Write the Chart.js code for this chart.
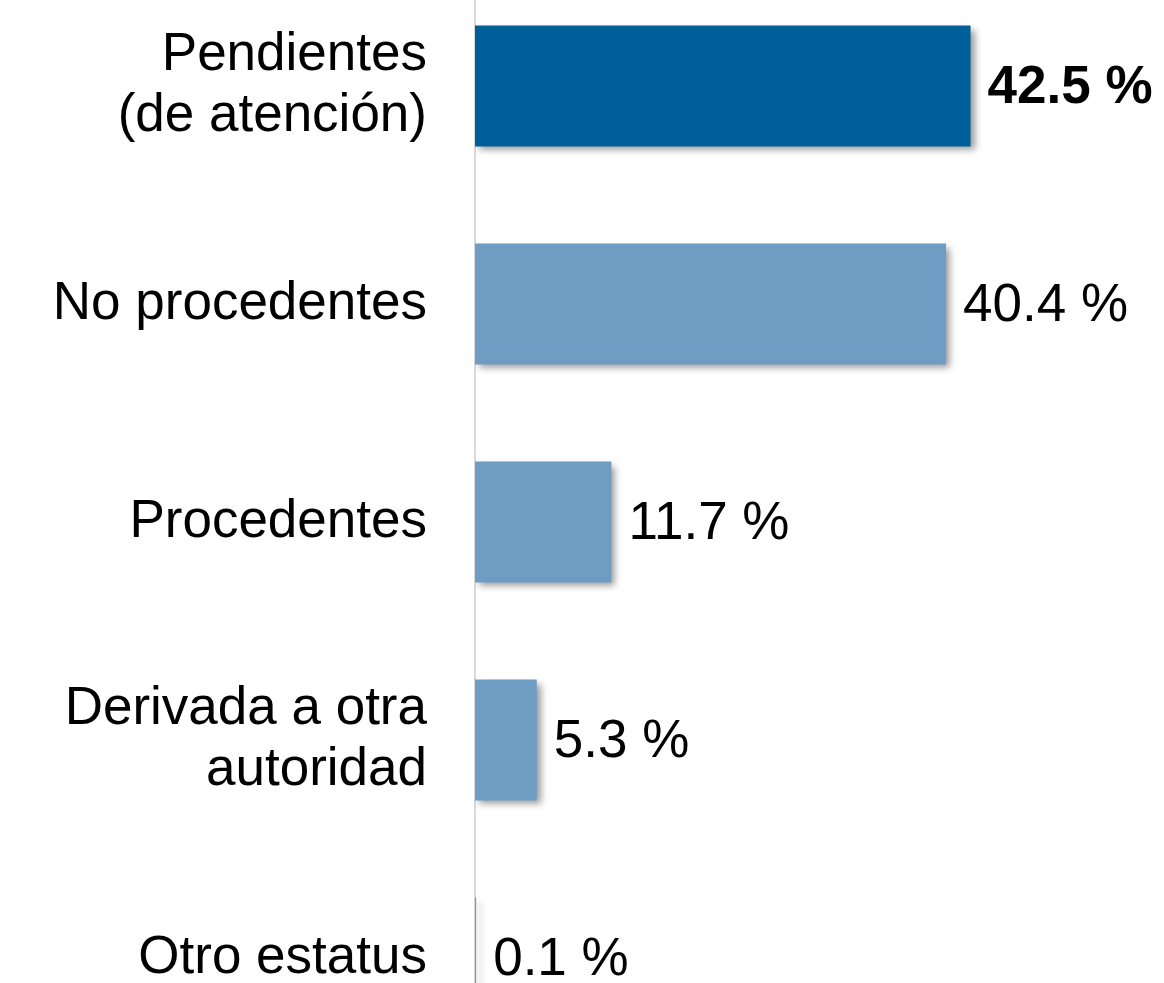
<!DOCTYPE html>
<html lang="es">
<head>
<meta charset="utf-8">
<script src="https://cdn.jsdelivr.net/npm/chart.js@4/dist/chart.umd.min.js"></script>
<style>
  html, body { margin: 0; padding: 0; background: #ffffff; overflow: hidden; }
  body { width: 1164px; height: 983px; position: relative; }
  #chart { position: absolute; left: 0; top: -23px; }
</style>
</head>
<body>
<canvas id="chart" width="1164" height="1090"></canvas>
<script>
// Estatus de las solicitudes (porcentaje del total)
const categories = [
  ['Pendientes', '(de atención)'],
  'No procedentes',
  'Procedentes',
  ['Derivada a otra', 'autoridad'],
  'Otro estatus'
];
const values = [42.5, 40.4, 11.7, 5.3, 0.1];
const barColors = ['#005f98', '#6f9cc3', '#6f9cc3', '#6f9cc3', '#6f9cc3'];
const boldLabel = [true, false, false, false, false];

const FONT = "'Liberation Sans', Arial, sans-serif";

// Drop shadow under the bars plus the value labels at the end of each bar
const barDecor = {
  id: 'barDecor',
  beforeDatasetsDraw(chart) {
    const ctx = chart.ctx;
    ctx.save();
    ctx.shadowColor = 'rgba(0,0,0,0.4)';
    ctx.shadowOffsetX = 4;
    ctx.shadowOffsetY = 4;
    ctx.shadowBlur = 7;
  },
  afterDatasetsDraw(chart) {
    const ctx = chart.ctx;
    ctx.restore();
    const meta = chart.getDatasetMeta(0);
    ctx.save();
    ctx.fillStyle = '#000000';
    ctx.textBaseline = 'middle';
    ctx.textAlign = 'left';
    meta.data.forEach((bar, i) => {
      ctx.font = (boldLabel[i] ? 'bold ' : '') + '53px ' + FONT;
      ctx.fillText(values[i].toFixed(1) + ' %', bar.x + 17, bar.y + 2);
    });
    ctx.restore();
  }
};

new Chart(document.getElementById('chart'), {
  type: 'bar',
  data: {
    labels: categories,
    datasets: [{
      data: values,
      backgroundColor: barColors,
      borderWidth: 0,
      barPercentage: 0.555,
      categoryPercentage: 1.0
    }]
  },
  options: {
    indexAxis: 'y',
    responsive: false,
    animation: false,
    devicePixelRatio: 1,
    layout: { padding: { left: 0, right: 106, top: 0, bottom: 0 } },
    plugins: {
      legend: { display: false },
      tooltip: { enabled: false }
    },
    scales: {
      x: {
        display: false,
        min: 0,
        max: 50
      },
      y: {
        afterFit(scale) {
          scale.width = 475;
          scale.paddingTop = 0;
          scale.paddingBottom = 0;
        },
        grid: { display: false, drawTicks: false },
        border: { display: true, color: '#d9d9d9', width: 2 },
        ticks: {
          color: '#000000',
          padding: 48,
          font: { family: FONT, size: 53, lineHeight: 1.15 }
        }
      }
    }
  },
  plugins: [barDecor]
});
</script>
</body>
</html>
